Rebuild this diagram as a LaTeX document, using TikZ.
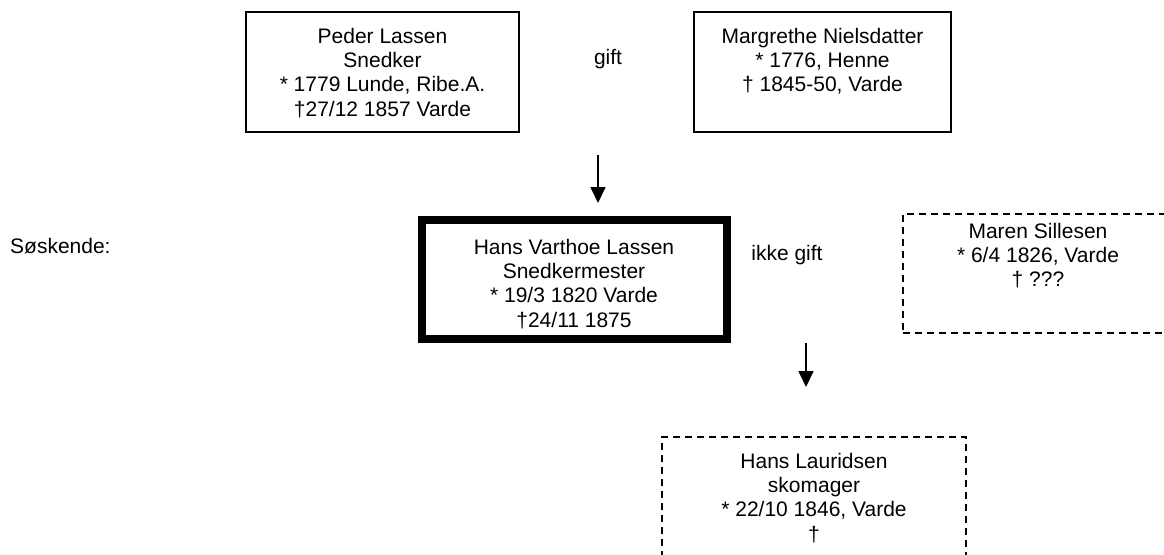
\documentclass[tikz,border=0pt]{standalone}
\usepackage{fontspec}
\setmainfont{Liberation Sans}
\usetikzlibrary{arrows.meta}
\begin{document}
\begin{tikzpicture}[x=1pt,y=-1pt,
  box/.style={draw=black, line width=2pt, inner sep=0pt, outer sep=0pt, anchor=north west},
  mainbox/.style={box, line width=8pt},
  dbox/.style={box, dash pattern=on 7pt off 5pt},
  txt/.style={inner sep=0pt, align=center, anchor=north, font=\fontsize{21}{24.2}\selectfont},
  lbl/.style={inner sep=0pt, font=\fontsize{21}{24.2}\selectfont},
  arr/.style={line width=1.7pt, -{Triangle[width=15pt,length=16pt]}}]
\clip (0,0) rectangle (1164,554);
\useasboundingbox (0,0) rectangle (1164,554);
% boxes
\node[box, minimum width=273pt, minimum height=120pt] (peder) at (246,12) {};
\node[box, minimum width=257pt, minimum height=120pt] (marg) at (694,12) {};
\node[mainbox, minimum width=305pt, minimum height=119pt] (hansv) at (422,220) {};
\node[dbox, minimum width=270pt, minimum height=119pt] (maren) at (903,214) {};
\node[dbox, minimum width=304pt, minimum height=130pt] (hansl) at (662,437) {};
% texts
\node[txt] (pedertxt) at (382.5,28) {Peder Lassen\\Snedker\\* 1779 Lunde, Ribe.A.\\†27/12 1857 Varde};
\node[txt] (margtxt) at (822.5,28) {Margrethe Nielsdatter\\* 1776, Henne\\† 1845-50, Varde};
\node[txt] (hansvtxt) at (574,239) {Hans Varthoe Lassen\\Snedkermester\\* 19/3 1820 Varde\\†24/11 1875};
\node[txt] (marentxt) at (1038,223) {Maren Sillesen\\* 6/4 1826, Varde\\† ???};
\node[txt] (hansltxt) at (814,453) {Hans Lauridsen\\skomager\\* 22/10 1846, Varde\\†};
% labels
\node[lbl] (gift) at (608,59) {gift};
\node[lbl] (ikkegift) at (787,255) {ikke gift};
\node[lbl, anchor=base west] (soskende) at (10,253) {Søskende:};
% arrows
\coordinate (a1s) at (598,155);
\coordinate (a1e) at (598,203);
\coordinate (a2s) at (806,343);
\coordinate (a2e) at (806,387);
\draw[arr] (a1s) -- (a1e);
\draw[arr] (a2s) -- (a2e);
\end{tikzpicture}
\end{document}
